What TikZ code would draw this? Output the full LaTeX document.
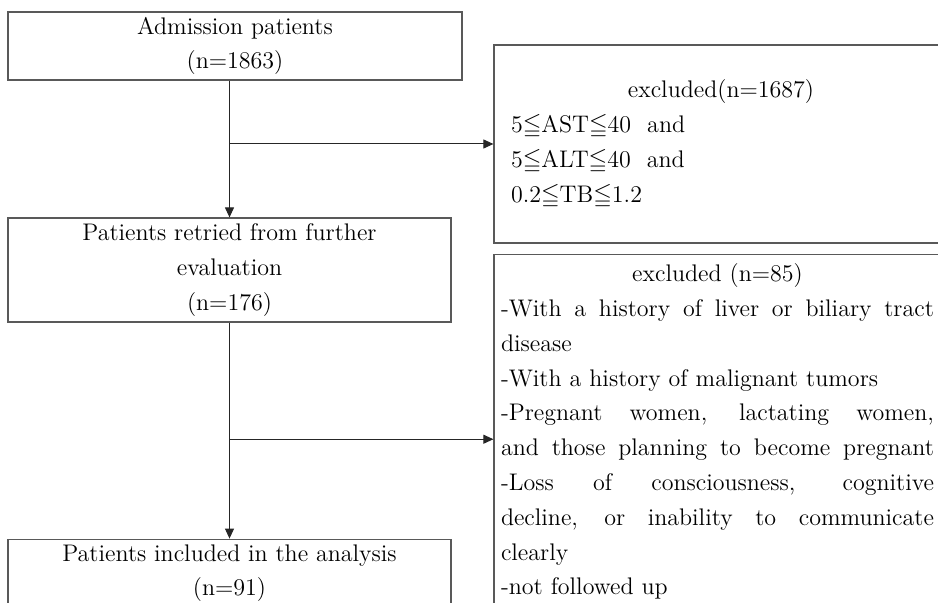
\documentclass[tikz,border=0pt]{standalone}
\usepackage{amssymb}
\usepackage{tikz}
\usetikzlibrary{positioning, calc, arrows.meta}

% width of the text in the exclusion boxes
\newlength{\exclw}
\setlength{\exclw}{216.5pt}
\newcommand{\fullline}[1]{\leavevmode\hbox to \exclw{\spaceskip=0.33em plus 1fil\relax #1}}
\newcommand{\midline}[2][\exclw]{\makebox[#1][c]{#2}}

\begin{document}
\begin{tikzpicture}[
    x=0.5pt, y=-0.5pt,
    % Node styles
    flowbox/.style={
        draw=black!65, line width=0.6pt, inner sep=0pt, align=center,
        font=\fontsize{12}{17.4}\selectfont
    },
    exclbox/.style={
        flowbox, align=left, inner xsep=3.5pt, text width=\exclw
    },
    % Edge style
    edge/.style={draw=black!85, line width=0.5pt},
    % Arrow style
    arrow/.style={edge, -{Triangle[length=5pt, width=4.5pt]}},
]

% page frame, the right boxes run past it
\path[use as bounding box] (0,0) rectangle (938,603);
\clip (0,0) rectangle (938,603);

% ===== LEFT COLUMN: patient flow =====

\node[flowbox, minimum width=227pt, minimum height=34pt] (admit) at (235,46)
    {Admission patients\\(n=1863)};

\node[flowbox, minimum width=221.5pt, minimum height=52pt] (retried) at (229.5,270)
    {Patients retried from further\\evaluation\\(n=176)};

\node[flowbox, minimum width=221.5pt, minimum height=34pt, below=108pt of retried] (incl)
    {Patients included in the analysis\\(n=91)};

% ===== RIGHT COLUMN: exclusions =====

% Lab values
\node[exclbox, text width=210pt, inner xsep=8.5pt, minimum height=99pt] (excl-lab) at (721,144)
    {\midline[210pt]{excluded(n=1687)}\\
     5$\leqq$AST$\leqq$40 \ and\\
     5$\leqq$ALT$\leqq$40 \ and\\
     0.2$\leqq$TB$\leqq$1.2};

% Clinical reasons
\node[exclbox, minimum height=177.5pt, below=5pt of excl-lab.south west, anchor=north west] (excl-clin)
    {\midline{excluded (n=85)}\\
     \fullline{-With a history of liver or biliary tract}\\
     disease\\
     -With a history of malignant tumors\\
     \fullline{-Pregnant women, lactating women,}\\
     \fullline{and those planning to become pregnant}\\
     \fullline{-Loss of consciousness, cognitive}\\
     \fullline{decline, or inability to communicate}\\
     clearly\\
     -not followed up};

% ===== ARROWS =====

% admission -> retried, with branch to lab exclusions
\draw[arrow] (retried.north |- admit.south) -- (retried.north);
\draw[arrow] (excl-lab.west -| retried.north) -- (excl-lab.west);

% retried -> included, with branch to clinical exclusions
\coordinate (split2) at ($(retried.south)!0.54!(incl.north)$);
\draw[arrow] (retried.south) -- (incl.north);
\draw[arrow] (split2) -- (split2 -| excl-clin.west);

\end{tikzpicture}
\end{document}
